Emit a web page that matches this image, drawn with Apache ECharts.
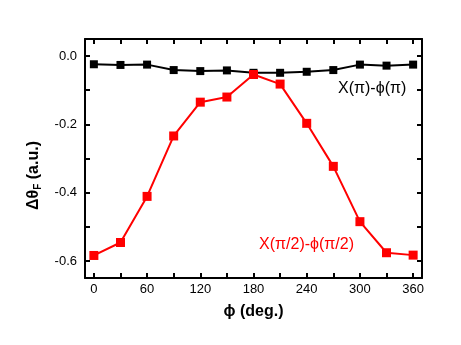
<!DOCTYPE html>
<html><head><meta charset="utf-8">
<script src="https://cdn.jsdelivr.net/npm/echarts@6/dist/echarts.min.js"></script>
<style>html,body{margin:0;padding:0;background:#fff}#c{width:461px;height:345px}</style>
</head><body><div id="c"></div>
<script>
const phi = [0, 30, 60, 90, 120, 150, 180, 210, 240, 270, 300, 330, 360];
const seriesPi = [-0.024, -0.026, -0.025, -0.041, -0.044, -0.042, -0.049, -0.049, -0.046, -0.041, -0.025, -0.028, -0.025];
const seriesPi2 = [-0.584, -0.546, -0.411, -0.234, -0.135, -0.120, -0.054, -0.082, -0.197, -0.323, -0.485, -0.576, -0.583];
const xTickLabels = [0, 60, 120, 180, 240, 300, 360];
const xTicks = [0, 30, 60, 90, 120, 150, 180, 210, 240, 270, 300, 330, 360];
const yTickLabels = [-0.6, -0.4, -0.2, 0];
const yTicks = [-0.6, -0.5, -0.4, -0.3, -0.2, -0.1, 0];
const labelPi = 'X(π)-ϕ(π)';
const labelPi2 = 'X(π/2)-ϕ(π/2)';

const font = 'Liberation Sans, Arial, sans-serif';
const chart = echarts.init(document.getElementById('c'));
const axLine = {show: true, onZero: false, lineStyle: {color: '#000', width: 2}};
function tick(vals) { return {show: true, inside: true, length: 5, customValues: vals, lineStyle: {color: '#000', width: 2}}; }
function xa(pos, showLabel) {
  return {type: 'value', position: pos, min: -10, max: 370,
    axisLine: axLine, axisTick: tick(xTicks), splitLine: {show: false},
    axisLabel: {show: showLabel, color: '#000', fontFamily: font, fontSize: 13, margin: 5,
      customValues: xTickLabels}};
}
function ya(pos, showLabel) {
  return {type: 'value', position: pos, min: -0.65, max: 0.05,
    axisLine: axLine, axisTick: tick(yTicks), splitLine: {show: false},
    axisLabel: {show: showLabel, color: '#000', fontFamily: font, fontSize: 13, margin: 8,
      customValues: yTickLabels, formatter: v => v.toFixed(1)}};
}
chart.setOption({
  animation: false,
  backgroundColor: '#fff',
  grid: {left: 85, right: 39, top: 39, bottom: 67},
  xAxis: [
    Object.assign(xa('bottom', true), {name: 'ϕ (deg.)', nameLocation: 'middle', nameGap: 26,
      nameTextStyle: {color: '#000', fontFamily: font, fontSize: 16, fontWeight: 'bold'}}),
    xa('top', false)
  ],
  yAxis: [
    Object.assign(ya('left', true), {
      name: '{a|Δθ}{b|F}{a| (a.u.)}', nameLocation: 'middle', nameGap: 42, nameRotate: 90,
      nameTextStyle: {padding: [0, 34, 0, 0], rich: {
        a: {fontFamily: font, fontSize: 16, fontWeight: 'bold', color: '#000'},
        b: {fontFamily: font, fontSize: 10, fontWeight: 'bold', color: '#000', verticalAlign: 'bottom', padding: [8, 0, 0, 0]}
      }}}),
    ya('right', false)
  ],
  series: [
    {type: 'line', name: labelPi, data: phi.map((p, i) => [p, seriesPi[i]]),
      symbol: 'rect', symbolSize: 8, itemStyle: {color: '#000'},
      lineStyle: {color: '#000', width: 2}},
    {type: 'line', name: labelPi2, data: phi.map((p, i) => [p, seriesPi2[i]]),
      symbol: 'rect', symbolSize: 9, itemStyle: {color: '#ff0000'},
      lineStyle: {color: '#ff0000', width: 2}}
  ],
  graphic: [
    {type: 'text', left: 338, top: 81, style: {text: labelPi, fill: '#000', fontFamily: font, fontSize: 16}},
    {type: 'text', left: 259, top: 237, style: {text: labelPi2, fill: '#ff0000', fontFamily: font, fontSize: 16}}
  ]
});
</script></body></html>
